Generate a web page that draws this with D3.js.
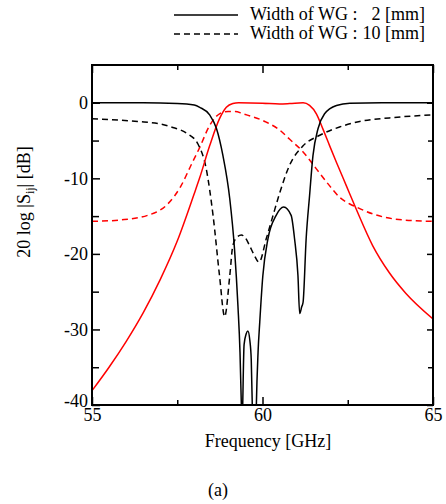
<!DOCTYPE html>
<html>
<head>
<meta charset="utf-8">
<script src="https://cdn.jsdelivr.net/npm/d3@7"></script>
<style>
  body { margin: 0; background: #fff; }
  svg, svg text { font-family: 'Liberation Serif', 'Times New Roman', serif; }
</style>
</head>
<body>
<div id="chart"></div>
<script>
// S-parameters, WG width 2 mm (solid) and 10 mm (dashed)
const freqS11w2 = [55, 56.5, 57.5, 58.0, 58.16, 58.45, 58.65, 58.84, 59.04, 59.18, 59.28, 59.34, 59.38, 59.40, 59.42, 59.46, 59.52, 59.57, 59.63, 59.67, 59.70, 59.72, 59.80, 59.82, 59.87, 59.92, 60.01, 60.16, 60.40, 60.62, 60.84, 60.94, 61.04, 61.09, 61.15, 61.19, 61.28, 61.38, 61.48, 61.63, 61.82, 62.17, 62.56, 63.5, 65];
const s11w2 = [0, 0, -0.08, -0.3, -0.6, -1.6, -3.4, -7.0, -12.7, -19.4, -26.9, -33, -40, -45, -40, -32, -30.6, -30.2, -31.5, -34, -40, -45, -45, -40, -33, -29, -22.9, -18.0, -14.9, -13.8, -14.9, -18.0, -22.9, -27.9, -27.0, -26.4, -18, -12.3, -7.0, -3.4, -1.46, -0.35, -0.05, 0, 0];

const freqS21w2 = [55, 55.5, 56, 56.5, 57, 57.5, 58, 58.16, 58.45, 58.74, 58.94, 59.13, 59.3, 60.0, 60.5, 60.8, 61.19, 61.38, 61.58, 61.77, 61.97, 62.17, 62.46, 62.75, 63.23, 63.72, 64.2, 65];
const s21w2 = [-38.1, -35.0, -31.6, -27.8, -23.4, -18.3, -12.0, -9.9, -5.7, -2.1, -0.6, -0.1, 0, -0.05, -0.15, -0.1, 0, -0.35, -1.46, -3.45, -5.7, -7.9, -11.0, -14.1, -18.9, -22.5, -25.2, -28.6];

const freqS11w10 = [55, 56.34, 57.0, 57.32, 57.8, 58.1, 58.35, 58.55, 58.74, 58.89, 59.04, 59.13, 59.25, 59.38, 59.5, 59.62, 59.75, 59.9, 60.11, 60.31, 60.5, 60.79, 61.19, 61.68, 62.26, 62.85, 63.72, 65];
const s11w10 = [-2.1, -2.48, -2.8, -3.2, -4.1, -5.4, -8.75, -14.9, -22.9, -28.3, -22.9, -18.9, -17.8, -17.5, -17.9, -18.9, -20.1, -21.1, -18.0, -14.9, -12.0, -8.3, -5.7, -4.3, -3.2, -2.48, -2.0, -1.6];

const freqS21w10 = [55, 55.85, 56.63, 57.22, 57.61, 57.9, 58.16, 58.45, 58.74, 58.99, 59.2, 59.43, 60.11, 60.5, 60.79, 61.19, 61.58, 61.97, 62.26, 62.56, 62.75, 63.23, 63.9, 65];
const s21w10 = [-15.7, -15.5, -14.9, -13.4, -11.0, -8.3, -5.9, -3.0, -1.46, -1.15, -1.15, -1.46, -2.56, -3.6, -4.8, -6.5, -8.75, -11.0, -12.5, -13.4, -13.8, -14.7, -15.4, -15.7];

const xMajorTicks = [55, 60, 65];
const xMinorTicks = [57.5, 62.5];
const yMajorTicks = [0, -10, -20, -30, -40];
const yMinorTicks = [-5, -15, -25, -35];
const legendLabels = ['2 [mm]', '10 [mm]'];

const width = 446;
const height = 504;
const plotLeft = 92, plotRight = 433, plotTop = 65, plotBottom = 405;
const fontSize = '18px';
const serif = "'Liberation Serif', 'Times New Roman', serif";

const svg = d3.select('#chart')
              .append('svg')
              .attr('width', width)
              .attr('height', height);

const x = d3.scaleLinear().domain([55, 65]).range([plotLeft, plotRight]);
const y = d3.scaleLinear().domain([-40, 5]).range([plotBottom, plotTop]);

svg.append('clipPath')
   .attr('id', 'plot-clip')
   .append('rect')
   .attr('x', plotLeft).attr('y', plotTop)
   .attr('width', plotRight - plotLeft).attr('height', plotBottom - plotTop);

const series = [
  { f: freqS21w10, v: s21w10, color: '#ff0000', dash: '6,4' },
  { f: freqS11w10, v: s11w10, color: '#000', dash: '6,4' },
  { f: freqS21w2, v: s21w2, color: '#ff0000', dash: null },
  { f: freqS11w2, v: s11w2, color: '#000', dash: null }
];

const line = d3.line()
               .x((d) => x(d[0]))
               .y((d) => y(d[1]))
               .curve(d3.curveMonotoneX);

svg.append('g')
   .attr('clip-path', 'url(#plot-clip)')
   .selectAll('path')
   .data(series)
   .enter()
   .append('path')
   .attr('d', (s) => line(s.f.map((f, i) => [f, s.v[i]])))
   .attr('fill', 'none')
   .attr('stroke', (s) => s.color)
   .attr('stroke-width', 1.5)
   .attr('stroke-dasharray', (s) => s.dash);

// ticks point inward on all four sides
const addAxis = (axis, tx, ty) => {
  const g = svg.append('g')
               .attr('transform', 'translate(' + tx + ',' + ty + ')')
               .call(axis);
  g.attr('font-family', serif).attr('font-size', fontSize);
  g.select('.domain').remove();
  g.selectAll('line').attr('stroke-width', 1.5);
  g.selectAll('text')
   .style('font-family', serif)
   .style('font-size', fontSize)
   .attr('fill', '#000');
  return g;
};

const plainNumber = (d) => String(d);

addAxis(d3.axisBottom(x).tickValues(xMajorTicks).tickSize(-8).tickPadding(3).tickFormat(plainNumber), 0, plotBottom);
addAxis(d3.axisBottom(x).tickValues(xMinorTicks).tickSize(-5).tickFormat(''), 0, plotBottom);
addAxis(d3.axisTop(x).tickValues(xMajorTicks).tickSize(-8).tickFormat(''), 0, plotTop);
addAxis(d3.axisTop(x).tickValues(xMinorTicks).tickSize(-5).tickFormat(''), 0, plotTop);
const yAxis = addAxis(d3.axisLeft(y).tickValues(yMajorTicks).tickSize(-8).tickPadding(4).tickFormat(plainNumber), plotLeft, 0);
addAxis(d3.axisLeft(y).tickValues(yMinorTicks).tickSize(-7).tickFormat(''), plotLeft, 0);
addAxis(d3.axisRight(y).tickValues(yMajorTicks).tickSize(-6).tickFormat(''), plotRight, 0);
addAxis(d3.axisRight(y).tickValues(yMinorTicks).tickSize(-5).tickFormat(''), plotRight, 0);

// lift "-40" a touch so it sits on the corner next to "55"
yAxis.selectAll('text').filter((d) => d === -40).attr('dy', '0.1em');

svg.append('rect')
   .attr('x', plotLeft).attr('y', plotTop)
   .attr('width', plotRight - plotLeft).attr('height', plotBottom - plotTop)
   .attr('fill', 'none')
   .attr('stroke', '#000')
   .attr('stroke-width', 2);

svg.append('text')
   .attr('x', 268)
   .attr('y', 447)
   .attr('text-anchor', 'middle')
   .style('font-size', fontSize)
   .text('Frequency [GHz]');

const yLabel = svg.append('text')
                  .attr('transform', 'translate(30,202) rotate(-90)')
                  .attr('text-anchor', 'middle')
                  .style('font-size', fontSize);
yLabel.append('tspan').text('20 log |S');
yLabel.append('tspan').attr('dy', 4).style('font-size', '12px').text('ij');
yLabel.append('tspan').attr('dy', -4).text('| [dB]');

svg.append('text')
   .attr('x', 218)
   .attr('y', 496)
   .attr('text-anchor', 'middle')
   .style('font-size', fontSize)
   .text('(a)');

const legend = svg.append('g')
                  .selectAll('g')
                  .data(legendLabels)
                  .enter()
                  .append('g')
                  .attr('transform', (d, i) => 'translate(0,' + (15 + i * 19) + ')');

legend.append('line')
      .attr('x1', 174).attr('x2', 238)
      .attr('stroke', '#000')
      .attr('stroke-width', 1.5)
      .attr('stroke-dasharray', (d, i) => i === 0 ? null : '6,4');

legend.append('text')
      .attr('x', 250).attr('y', 5)
      .style('font-size', fontSize)
      .text('Width of WG :');

legend.append('text')
      .attr('x', 425).attr('y', 5)
      .attr('text-anchor', 'end')
      .style('font-size', fontSize)
      .text((d) => d);
</script>
</body>
</html>
